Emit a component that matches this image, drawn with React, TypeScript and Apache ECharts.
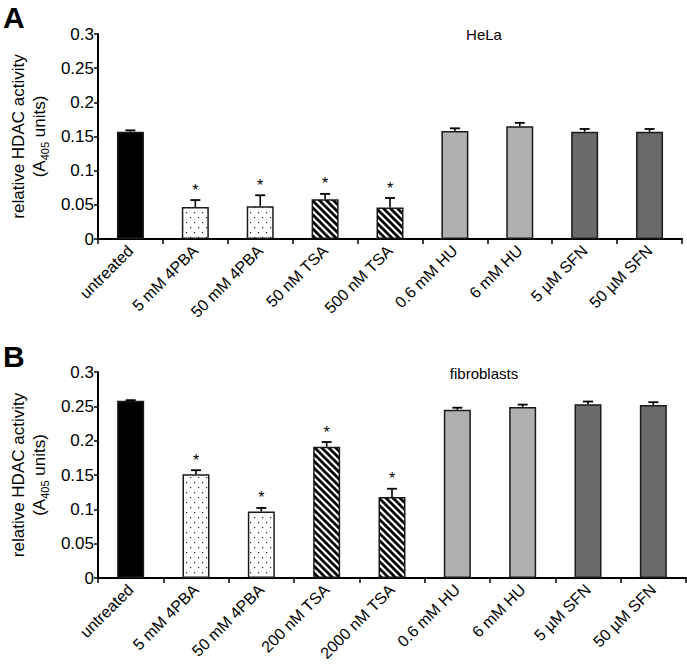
import React, { useEffect, useRef } from "react";
import * as echarts from "echarts";

const categoriesA = ["untreated", "5 mM 4PBA", "50 mM 4PBA", "50 nM TSA", "500 nM TSA", "0.6 mM HU", "6 mM HU", "5 µM SFN", "50 µM SFN"];
const categoriesB = ["untreated", "5 mM 4PBA", "50 mM 4PBA", "200 nM TSA", "2000 nM TSA", "0.6 mM HU", "6 mM HU", "5 µM SFN", "50 µM SFN"];
const valuesA = [0.157, 0.047, 0.048, 0.058, 0.046, 0.158, 0.165, 0.157, 0.157];
const errorsA = [0.002, 0.010, 0.016, 0.008, 0.014, 0.004, 0.005, 0.004, 0.004];
const valuesB = [0.258, 0.151, 0.097, 0.191, 0.118, 0.245, 0.249, 0.253, 0.252];
const errorsB = [0.001, 0.006, 0.005, 0.007, 0.012, 0.003, 0.0035, 0.004, 0.004];
const significant = [0, 1, 1, 1, 1, 0, 0, 0, 0];
const groups = ["untreated", "4PBA", "4PBA", "TSA", "TSA", "HU", "HU", "SFN", "SFN"];
const yTicks = [0, 0.05, 0.1, 0.15, 0.2, 0.25, 0.3];

const FONT = "'Liberation Sans', Arial, Helvetica, sans-serif";

function makeDots(): HTMLCanvasElement {
  const c = document.createElement("canvas");
  c.width = 8;
  c.height = 10;
  const ctx = c.getContext("2d")!;
  ctx.fillStyle = "#ffffff";
  ctx.fillRect(0, 0, 8, 10);
  ctx.fillStyle = "#222222";
  ctx.fillRect(2, 2, 1.2, 1.2);
  ctx.fillRect(6, 7, 1.2, 1.2);
  return c;
}

function makeStripes(): HTMLCanvasElement {
  const s = 7;
  const c = document.createElement("canvas");
  c.width = s;
  c.height = s;
  const ctx = c.getContext("2d")!;
  ctx.fillStyle = "#ffffff";
  ctx.fillRect(0, 0, s, s);
  ctx.strokeStyle = "#000000";
  ctx.lineWidth = 2.7;
  for (const k of [-s, 0, s]) {
    ctx.beginPath();
    ctx.moveTo(k - 1, -1);
    ctx.lineTo(k + s + 1, s + 1);
    ctx.stroke();
  }
  return c;
}

export default function App() {
  const ref = useRef<HTMLDivElement>(null);

  useEffect(() => {
    document.body.style.margin = "0";
    const chart = echarts.init(ref.current!, null, { renderer: "svg" });
    const dots = makeDots();
    const stripes = makeStripes();
    const fillFor = (g: string): any => {
      if (g === "untreated") return "#000000";
      if (g === "4PBA") return { image: dots, repeat: "repeat" };
      if (g === "TSA") return { image: stripes, repeat: "repeat" };
      if (g === "HU") return "#b0b0b0";
      return "#6a6a6a";
    };

    const barData = (vals: number[]) =>
      vals.map((v, i) => ({
        value: v,
        itemStyle: { color: fillFor(groups[i]), borderColor: "#1a1a1a", borderWidth: 1.5 },
      }));

    const errData = (vals: number[], errs: number[]) => vals.map((v, i) => [i, v, errs[i], significant[i]]);

    const renderErr = (params: any, api: any) => {
      const idx = api.value(0);
      const v = api.value(1);
      const e = api.value(2);
      const star = api.value(3);
      const base = api.coord([idx, v]);
      const top = api.coord([idx, v + e]);
      const children: any[] = [
        { type: "line", shape: { x1: base[0], y1: base[1], x2: top[0], y2: top[1] }, style: { stroke: "#000", lineWidth: 1.6 } },
        { type: "line", shape: { x1: top[0] - 5, y1: top[1], x2: top[0] + 5, y2: top[1] }, style: { stroke: "#000", lineWidth: 1.8 } },
      ];
      if (star) {
        children.push({
          type: "text",
          x: top[0],
          y: top[1] - 2,
          style: { text: "*", fontSize: 16, fontFamily: FONT, fill: "#000", align: "center", verticalAlign: "bottom" },
        });
      }
      return { type: "group", children };
    };

    const yAxisCommon = (gridIndex: number) => ({
      type: "value",
      gridIndex,
      min: 0,
      max: 0.3,
      interval: 0.05,
      name: "relative HDAC activity\n(A{sub|405} units)",
      nameLocation: "middle",
      nameRotate: 90,
      nameGap: 47,
      nameTextStyle: {
        fontSize: 17,
        fontFamily: FONT,
        color: "#000",
        lineHeight: 21,
        rich: { sub: { fontSize: 11, fontFamily: FONT, color: "#000", verticalAlign: "bottom", padding: [6, 0, 0, 0] } },
      },
      axisLine: { show: true, lineStyle: { color: "#000", width: 2 } },
      axisTick: { show: true, length: 4, lineStyle: { color: "#000", width: 1.5 } },
      axisLabel: {
        fontSize: 17,
        fontFamily: FONT,
        color: "#000",
        margin: 4,
        formatter: (v: number) => {
          const t = yTicks.find((x) => Math.abs(x - v) < 1e-9);
          return String(t !== undefined ? t : v);
        },
      },
      splitLine: { show: false },
    });

    const xAxisCommon = (gridIndex: number, cats: string[]) => ({
      type: "category",
      gridIndex,
      data: cats,
      axisLine: { show: true, lineStyle: { color: "#000", width: 2 } },
      axisTick: { show: true, length: 5, interval: 0, alignWithLabel: false, lineStyle: { color: "#000", width: 1.5 } },
      axisLabel: { rotate: 45, interval: 0, fontSize: 16, fontFamily: FONT, color: "#000", margin: 9 },
      splitLine: { show: false },
    });

    chart.setOption({
      animation: false,
      backgroundColor: "#ffffff",
      grid: [
        { left: 90, top: 34, width: 592, height: 205 },
        { left: 94, top: 372, width: 592, height: 206 },
      ],
      xAxis: [xAxisCommon(0, categoriesA), xAxisCommon(1, categoriesB)],
      yAxis: [yAxisCommon(0), yAxisCommon(1)],
      graphic: [
        { type: "text", left: 3, top: 2, style: { text: "A", fontSize: 30, fontWeight: "bold", fontFamily: FONT, fill: "#000" } },
        { type: "text", left: 3, top: 341, style: { text: "B", fontSize: 30, fontWeight: "bold", fontFamily: FONT, fill: "#000" } },
        { type: "text", x: 484, y: 34, style: { text: "HeLa", fontSize: 15, fontFamily: FONT, fill: "#000", align: "center", verticalAlign: "middle" } },
        { type: "text", x: 484, y: 373, style: { text: "fibroblasts", fontSize: 15, fontFamily: FONT, fill: "#000", align: "center", verticalAlign: "middle" } },
      ],
      series: [
        { type: "bar", xAxisIndex: 0, yAxisIndex: 0, barWidth: 27, data: barData(valuesA), z: 2 },
        { type: "custom", xAxisIndex: 0, yAxisIndex: 0, renderItem: renderErr, data: errData(valuesA, errorsA), encode: { x: 0, y: 1 }, z: 3 },
        { type: "bar", xAxisIndex: 1, yAxisIndex: 1, barWidth: 27, data: barData(valuesB), z: 2 },
        { type: "custom", xAxisIndex: 1, yAxisIndex: 1, renderItem: renderErr, data: errData(valuesB, errorsB), encode: { x: 0, y: 1 }, z: 3 },
      ],
    });
    return () => chart.dispose();
  }, []);

  return <div ref={ref} style={{ width: 687, height: 668 }} />;
}
